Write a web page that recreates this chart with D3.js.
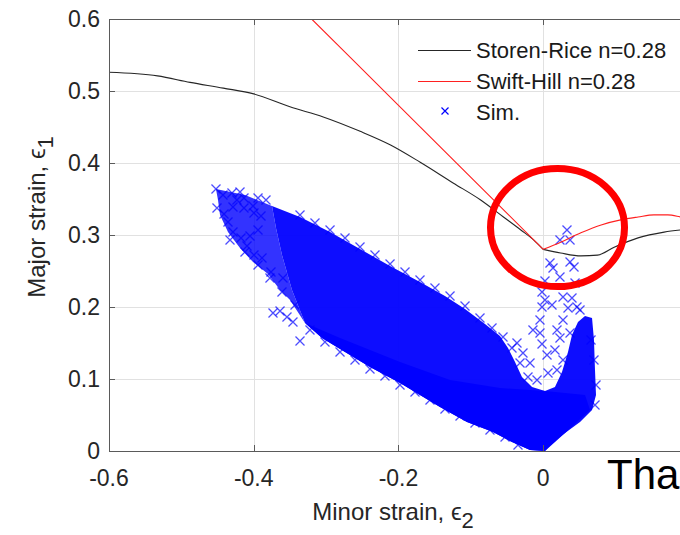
<!DOCTYPE html>
<html>
<head>
<meta charset="utf-8">
<script src="https://cdn.jsdelivr.net/npm/d3@7"></script>
<style>
  body { margin: 0; background: #fff; }
  svg { display: block; font-family: "Liberation Sans", Arial, Helvetica, sans-serif; }
</style>
</head>
<body>
<div id="chart"></div>
<script>
// ticks (0.2 tick sits just off the right edge of the picture)
let xTicks = [-0.6, -0.4, -0.2, 0]
let xTickLabels = ["-0.6", "-0.4", "-0.2", "0"]
let yTicks = [0, 0.1, 0.2, 0.3, 0.4, 0.5, 0.6]
let yTickLabels = ["0", "0.1", "0.2", "0.3", "0.4", "0.5", "0.6"]

// Storen-Rice n=0.28
let storenE2 = [-0.6, -0.533, -0.488, -0.442, -0.4, -0.35, -0.304, -0.253, -0.211, -0.17, -0.124, -0.087, -0.055, -0.031, -0.013, 0, 0.024, 0.052, 0.075, 0.098, 0.131, 0.167, 0.2]
let storenE1 = [0.526, 0.521, 0.512, 0.504, 0.496, 0.478, 0.464, 0.444, 0.425, 0.401, 0.372, 0.349, 0.325, 0.307, 0.293, 0.28, 0.275, 0.271, 0.272, 0.283, 0.296, 0.304, 0.308]

// Swift-Hill n=0.28
let swiftE2 = [-0.4, -0.32, -0.2, -0.1, 0, 0.024, 0.052, 0.08, 0.107, 0.131, 0.153, 0.172, 0.19, 0.2]
let swiftE1 = [0.68, 0.6, 0.48, 0.38, 0.28, 0.29, 0.303, 0.314, 0.321, 0.325, 0.328, 0.328, 0.325, 0.323]

// Sim. - outline of the dense part of the cloud
let cloudE2 = [-0.3748, -0.3361, -0.2946, -0.2532, -0.2117, -0.1703, -0.1358, -0.1081, -0.0805, -0.0598, -0.0487, -0.039, -0.0294, -0.0155, 0.0024, 0.0162, 0.0259, 0.0342, 0.0397, 0.048, 0.0577, 0.0674, 0.0701, 0.0715, 0.0729, 0.0674, 0.0508, 0.0301, 0.0121, 0.0024, -0.0183, -0.0432, -0.0694, -0.1054, -0.1427, -0.1703, -0.1979, -0.2394, -0.2739, -0.3057, -0.3292, -0.3472, -0.361, -0.3693]
let cloudE1 = [0.3403, 0.325, 0.3042, 0.2806, 0.2569, 0.2347, 0.2153, 0.1972, 0.1764, 0.1597, 0.1431, 0.1236, 0.1028, 0.0889, 0.0833, 0.0889, 0.1097, 0.1375, 0.1611, 0.1792, 0.1875, 0.1847, 0.1542, 0.1125, 0.0778, 0.0569, 0.0403, 0.025, 0.0111, 0, 0.0014, 0.0125, 0.0264, 0.0403, 0.0611, 0.0778, 0.0944, 0.1167, 0.1375, 0.1569, 0.1778, 0.2236, 0.2722, 0.3097]

// Sim. - thinner cloud at the upper-left end
let fringeE2 = [-0.4522, -0.4121, -0.3748, -0.3693, -0.361, -0.3472, -0.3292, -0.3499, -0.3637, -0.3803, -0.401, -0.419, -0.4356, -0.4466, -0.4494]
let fringeE1 = [0.3639, 0.3556, 0.3403, 0.3097, 0.2722, 0.2236, 0.1778, 0.2097, 0.2236, 0.2458, 0.2625, 0.2819, 0.3042, 0.3278, 0.3486]

// Sim. - darkest strip along the lower edge
let coreE2 = [-0.3292, -0.2808, -0.1979, -0.1288, -0.0598, 0.0024, 0.0577, 0.0646, 0.0301, 0.0024, -0.0183, -0.0432, -0.0694, -0.1054, -0.1427, -0.1979, -0.2394, -0.2739, -0.3057]
let coreE1 = [0.1778, 0.1569, 0.1236, 0.0986, 0.0875, 0.0833, 0.0778, 0.0569, 0.025, 0, 0.0014, 0.0125, 0.0264, 0.0403, 0.0611, 0.0944, 0.1167, 0.1375, 0.1569]

// Sim. - single points (sparse parts and ragged edges)
let simE2 = [-0.4522, -0.4425, -0.4301, -0.419, -0.4135, -0.4508, -0.4411, -0.4287, -0.4135, -0.401, -0.3997, -0.39, -0.4287, -0.4176, -0.4052, -0.3941, -0.3997, -0.3886, -0.4093, -0.4356, -0.3831, -0.3941, -0.3762, -0.3596, -0.3734, -0.3541, -0.3637, -0.3361, -0.3458, -0.4232,
  -0.4328, -0.4121, -0.3941, -0.3776, -0.361, -0.343,
  -0.3361, -0.3154, -0.2946, -0.2739, -0.2532, -0.2325, -0.2117, -0.191, -0.1703, -0.1496, -0.1288, -0.1081, -0.0874, -0.0708, -0.0556,
  -0.3223, -0.3016, -0.2808, -0.2601, -0.2394, -0.2187, -0.1979, -0.1772, -0.1565, -0.1358, -0.115, -0.0943, -0.0736, -0.0528, -0.0349, 0.0715, 0.0729, 0.0701, 0.066,
  0.0328, 0.0231, 0.037, 0.0093, 0.0135, 0.037, 0.0425, 0.0231, 0.0024, 0.0439, -0.0017, 0.0024, 0.0273, 0.0397, 0.0342, 0.0466, -0.0017, 0.0121, -0.0045, 0.0273, 0.0508, -0.0142, -0.0045, 0.019, 0.0231, -0.0017, 0.0052, 0.0162, 0.037, -0.0363, -0.0432, -0.028, -0.0183, -0.0321, -0.0086, -0.0211, 0.019, 0.0273, 0.0066]
let simE1 = [0.3639, 0.3556, 0.3583, 0.3597, 0.3514, 0.3375, 0.3292, 0.3389, 0.3375, 0.3403, 0.3306, 0.3264, 0.3042, 0.2958, 0.2986, 0.3069, 0.2722, 0.2681, 0.2847, 0.3181, 0.3486, 0.3514, 0.2486, 0.2403, 0.1917, 0.1861, 0.1944, 0.1528, 0.1792, 0.3486,
  0.2931, 0.2764, 0.2583, 0.2403, 0.2208, 0.2028,
  0.3278, 0.3167, 0.3069, 0.2958, 0.2833, 0.2722, 0.2597, 0.2486, 0.2375, 0.2264, 0.2153, 0.2014, 0.1847, 0.1708, 0.1583,
  0.1681, 0.1514, 0.1375, 0.1264, 0.1139, 0.1042, 0.0917, 0.0819, 0.0708, 0.0583, 0.0486, 0.0389, 0.0292, 0.0194, 0.0083, 0.0639, 0.0917, 0.1264, 0.1542,
  0.3069, 0.2931, 0.2931, 0.2611, 0.2542, 0.2625, 0.2556, 0.2417, 0.2361, 0.2333, 0.2208, 0.2097, 0.2139, 0.2125, 0.1986, 0.2, 0.2, 0.2028, 0.1819, 0.1819, 0.1958, 0.1681, 0.1639, 0.1681, 0.1569, 0.1486, 0.1333, 0.1403, 0.1639, 0.15, 0.1431, 0.1361, 0.1222, 0.1222, 0.0986, 0.1028, 0.1125, 0.1264, 0.1083]

let legendLabels = ["Storen-Rice n=0.28", "Swift-Hill n=0.28", "Sim."]

// annotation circle around the plane-strain point (data units)
let ringCentre = [0.0197, 0.3104]
let ringRadius = [0.0926, 0.082]

let svgWidth = 680
let svgHeight = 535
let margin = {left: 109, top: 19, right: 688, bottom: 451}

let svg = d3.select("#chart")
    .append("svg")
        .attr("width", svgWidth)
        .attr("height", svgHeight)

let x = d3.scaleLinear().domain([-0.6, 0.2]).range([margin.left, margin.right])
let y = d3.scaleLinear().domain([0, 0.6]).range([margin.bottom, margin.top])

svg.append("clipPath").attr("id", "plot-clip")
    .append("rect")
        .attr("x", margin.left).attr("y", margin.top)
        .attr("width", margin.right - margin.left).attr("height", margin.bottom - margin.top)

// grid
let grid = svg.append("g").attr("stroke", "#e1e1e1").attr("stroke-width", 1)
grid.selectAll("line.gx").data(xTicks.slice(1)).join("line")
    .attr("x1", d => Math.round(x(d)) + 0.5).attr("x2", d => Math.round(x(d)) + 0.5)
    .attr("y1", margin.top).attr("y2", margin.bottom)
grid.selectAll("line.gy").data(yTicks.slice(1, -1)).join("line")
    .attr("y1", d => Math.round(y(d)) + 0.5).attr("y2", d => Math.round(y(d)) + 0.5)
    .attr("x1", margin.left).attr("x2", margin.right)

let plot = svg.append("g").attr("clip-path", "url(#plot-clip)")

// simulation cloud
function polygon(e2, e1, opacity){
    let pts = e2.map((d, i) => [x(d), y(e1[i])])
    plot.append("path")
        .attr("d", d3.line().curve(d3.curveLinearClosed)(pts))
        .attr("fill", "#0000ff")
        .attr("fill-opacity", opacity)
}
polygon(fringeE2, fringeE1, 0.8)
polygon(cloudE2, cloudE1, 0.95)
polygon(coreE2, coreE1, 1)

let r = 4.5
let crossPath = `M${-r},${-r}L${r},${r}M${-r},${r}L${r},${-r}`
plot.selectAll("path.sim")
    .data(simE2.map((d, i) => [d, simE1[i]]))
    .join("path")
    .attr("class", "sim")
    .attr("transform", d => `translate(${x(d[0])},${y(d[1])})`)
    .attr("d", crossPath)
    .attr("stroke", "#0000ff")
    .attr("stroke-width", 1.3)
    .attr("stroke-opacity", 0.7)
    .attr("fill", "none")

// FLC curves, left and right of plane strain drawn separately to keep the kink
function drawCurve(e2, e1, colour){
    let pts = e2.map((d, i) => [d, e1[i]])
    let left = pts.filter(p => p[0] <= 0)
    let right = pts.filter(p => p[0] >= 0)
    let line = d3.line().x(p => x(p[0])).y(p => y(p[1])).curve(d3.curveMonotoneX)
    ;[left, right].forEach(part => {
        plot.append("path")
            .attr("d", line(part))
            .attr("fill", "none")
            .attr("stroke", colour)
            .attr("stroke-width", 1.1)
    })
}
drawCurve(storenE2, storenE1, "#262626")
drawCurve(swiftE2, swiftE1, "#ff2020")

// axes box (left, bottom, top; right edge is off the picture)
let axisColour = "#5a5a5a"
let frame = svg.append("g").attr("stroke", axisColour).attr("stroke-width", 1).attr("fill", "none")
frame.append("line").attr("x1", margin.left + 0.5).attr("x2", margin.left + 0.5).attr("y1", margin.top).attr("y2", margin.bottom + 0.5)
frame.append("line").attr("x1", margin.left).attr("x2", margin.right).attr("y1", margin.bottom + 0.5).attr("y2", margin.bottom + 0.5)
frame.append("line").attr("x1", margin.left).attr("x2", margin.right).attr("y1", margin.top + 0.5).attr("y2", margin.top + 0.5)

let tickLen = 6
frame.selectAll("line.tx").data(xTicks).join("line")
    .attr("x1", d => Math.round(x(d)) + 0.5).attr("x2", d => Math.round(x(d)) + 0.5)
    .attr("y1", margin.bottom).attr("y2", margin.bottom - tickLen)
frame.selectAll("line.ttx").data(xTicks).join("line")
    .attr("x1", d => Math.round(x(d)) + 0.5).attr("x2", d => Math.round(x(d)) + 0.5)
    .attr("y1", margin.top).attr("y2", margin.top + tickLen)
frame.selectAll("line.ty").data(yTicks).join("line")
    .attr("y1", d => Math.round(y(d)) + 0.5).attr("y2", d => Math.round(y(d)) + 0.5)
    .attr("x1", margin.left).attr("x2", margin.left + tickLen)

// tick labels
let labelColour = "#262626"
svg.selectAll("text.xl").data(xTicks).join("text")
    .attr("x", d => x(d))
    .attr("y", 486)
    .attr("text-anchor", "middle")
    .attr("font-size", 23)
    .attr("fill", labelColour)
    .text((d, i) => xTickLabels[i])
svg.selectAll("text.yl").data(yTicks).join("text")
    .attr("x", 100)
    .attr("y", d => y(d))
    .attr("dy", "0.35em")
    .attr("text-anchor", "end")
    .attr("font-size", 23)
    .attr("fill", labelColour)
    .text((d, i) => yTickLabels[i])

// axis titles
let xTitle = svg.append("text")
    .attr("x", 393)
    .attr("y", 520)
    .attr("text-anchor", "middle")
    .attr("font-size", 24)
    .attr("fill", labelColour)
xTitle.append("tspan").text("Minor strain, ϵ")
xTitle.append("tspan").attr("dy", 8).attr("font-size", 22).text("2")

let yTitle = svg.append("text")
    .attr("transform", "translate(45, 217) rotate(-90)")
    .attr("text-anchor", "middle")
    .attr("font-size", 24)
    .attr("fill", labelColour)
yTitle.append("tspan").text("Major strain, ϵ")
yTitle.append("tspan").attr("dy", 8).attr("font-size", 22).text("1")

// legend
let legend = svg.append("g").attr("transform", "translate(418, 50)")
let legendRow = 31
legend.append("line").attr("x1", 0).attr("x2", 53).attr("y1", 0.5).attr("y2", 0.5)
    .attr("stroke", "#262626").attr("stroke-width", 1)
legend.append("line").attr("x1", 0).attr("x2", 53).attr("y1", legendRow + 0.5).attr("y2", legendRow + 0.5)
    .attr("stroke", "#ff2020").attr("stroke-width", 1)
let lr = 3.5
legend.append("path")
    .attr("transform", `translate(27, ${legendRow * 2 - 1})`)
    .attr("d", `M${-lr},${-lr}L${lr},${lr}M${-lr},${lr}L${lr},${-lr}`)
    .attr("stroke", "#0000ff").attr("stroke-width", 1.2).attr("fill", "none")
legend.selectAll("text").data(legendLabels).join("text")
    .attr("x", 58)
    .attr("y", (d, i) => i * legendRow)
    .attr("dy", "0.35em")
    .attr("font-size", 22)
    .attr("fill", "#1a1a1a")
    .text(d => d)

// red ring annotation
svg.append("ellipse")
    .attr("cx", x(ringCentre[0]))
    .attr("cy", y(ringCentre[1]))
    .attr("rx", x(ringRadius[0]) - x(0))
    .attr("ry", y(0) - y(ringRadius[1]))
    .attr("fill", "none")
    .attr("stroke", "#ff0000")
    .attr("stroke-width", 7)

// slide text overlapping the figure, cut by the picture edge
svg.append("text")
    .attr("x", 607)
    .attr("y", 489)
    .attr("font-size", 42)
    .attr("fill", "#000")
    .text("Tha")
</script>
</body>
</html>
